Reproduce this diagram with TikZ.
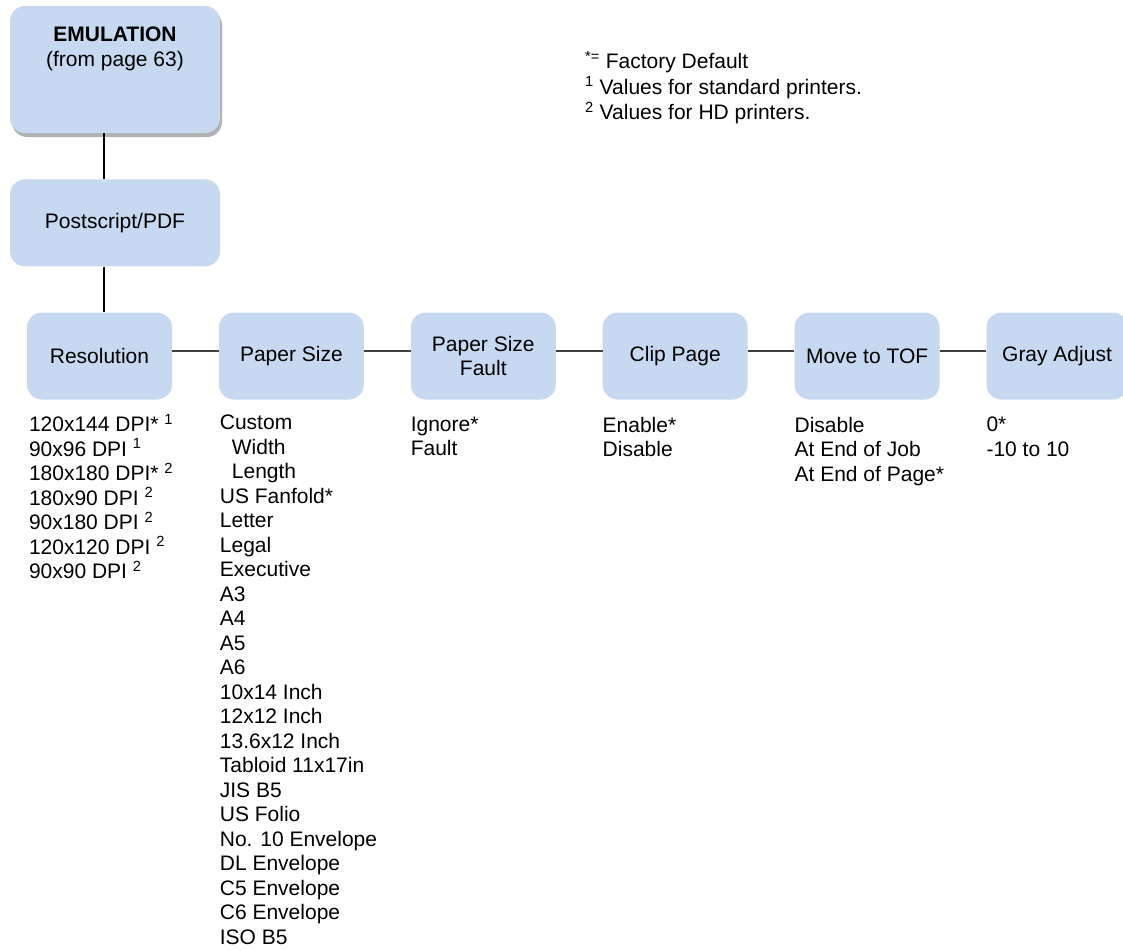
\documentclass[tikz,border=0pt]{standalone}
\usepackage{fontspec}
\setmainfont{Liberation Sans}
\usetikzlibrary{positioning,shadows}
\definecolor{MenuBlue}{RGB}{198,217,240}
\definecolor{LinkGray}{RGB}{64,64,64}

\begin{document}
\begin{tikzpicture}[
    x=1pt, y=1pt,
    every node/.style = {font=\fontsize{21}{24.5}\selectfont},
    menu/.style    = {rectangle, rounded corners=15pt, fill=MenuBlue,
                      minimum width=145pt, minimum height=87pt,
                      inner sep=4pt, align=center},
    topmenu/.style = {menu, minimum width=210pt},
    opts/.style    = {anchor=north west, inner sep=0pt, align=left},
    link/.style    = {line width=1.2pt, LinkGray},
    vlink/.style   = {line width=1.2pt, black},
]

\useasboundingbox (0,0) rectangle (1123,-950);

% ─── Entry point ─────────────────────────────────────────────────────────
\node[topmenu, minimum height=127pt,
      drop shadow={shadow xshift=2pt, shadow yshift=-4pt,
                   opacity=0.3, fill=black}] (emu) at (115,-69.5)
    {\parbox[t][85pt][t]{200pt}{\centering
     \textbf{EMULATION}\\(from page 63)}};

\node[topmenu, below=46pt of emu] (ps)
    {Postscript/PDF};
\draw[vlink] ([xshift=-11pt]emu.south) -- ([xshift=-11pt]ps.north);

% ─── Legend ──────────────────────────────────────────────────────────────
\node[opts, font=\fontsize{21}{25.5}\selectfont] (legend) at (585,-51)
    {\textsuperscript{*=} Factory Default\\
     \textsuperscript{1} Values for standard printers.\\
     \textsuperscript{2} Values for HD printers.};

% ─── Menu row ────────────────────────────────────────────────────────────
\node[menu] (res) at (99.5,-356)
    {Resolution};
\draw[vlink] ([xshift=-11pt]ps.south) -- ([xshift=-11pt]ps.south |- res.north);

\node[menu, right=46.5pt of res] (paper)
    {Paper Size};
\node[menu, right=46.5pt of paper] (fault)
    {Paper Size\\Fault};
\node[menu, right=46.5pt of fault] (clip)
    {Clip Page};
\node[menu, right=46.5pt of clip] (tof)
    {Move to TOF};
\node[menu, right=46.5pt of tof, minimum width=141pt] (gray)
    {Gray Adjust};

\foreach \a/\b in {res/paper, paper/fault, fault/clip, clip/tof, tof/gray}
    \draw[link] ([yshift=5pt]\a.east) -- ([yshift=5pt]\b.west);

% ─── Option lists ────────────────────────────────────────────────────────
\node[opts] (resopts) at ([xshift=2pt, yshift=-14pt]res.south west)
    {120x144 DPI* \textsuperscript{1}\\
     90x96 DPI \textsuperscript{1}\\
     180x180 DPI* \textsuperscript{2}\\
     180x90 DPI \textsuperscript{2}\\
     90x180 DPI \textsuperscript{2}\\
     120x120 DPI \textsuperscript{2}\\
     90x90 DPI \textsuperscript{2}};

\node[opts] (paperopts) at ([xshift=1pt, yshift=-15pt]paper.south west)
    {Custom\\
     \hspace{12pt}Width\\
     \hspace{12pt}Length\\
     US Fanfold*\\
     Letter\\
     Legal\\
     Executive\\
     A3\\
     A4\\
     A5\\
     A6\\
     10x14 Inch\\
     12x12 Inch\\
     13.6x12 Inch\\
     Tabloid 11x17in\\
     JIS B5\\
     US Folio\\
     No. 10 Envelope\\
     DL Envelope\\
     C5 Envelope\\
     C6 Envelope\\
     ISO B5};

\node[opts] (faultopts) at ([yshift=-17pt]fault.south west)
    {Ignore*\\Fault};

\node[opts] (clipopts) at ([yshift=-17pt]clip.south west)
    {Enable*\\Disable};

\node[opts] (tofopts) at ([yshift=-17pt]tof.south west)
    {Disable\\At End of Job\\At End of Page*};

\node[opts] (grayopts) at ([yshift=-17pt]gray.south west)
    {0*\\-10 to 10};

\end{tikzpicture}
\end{document}
